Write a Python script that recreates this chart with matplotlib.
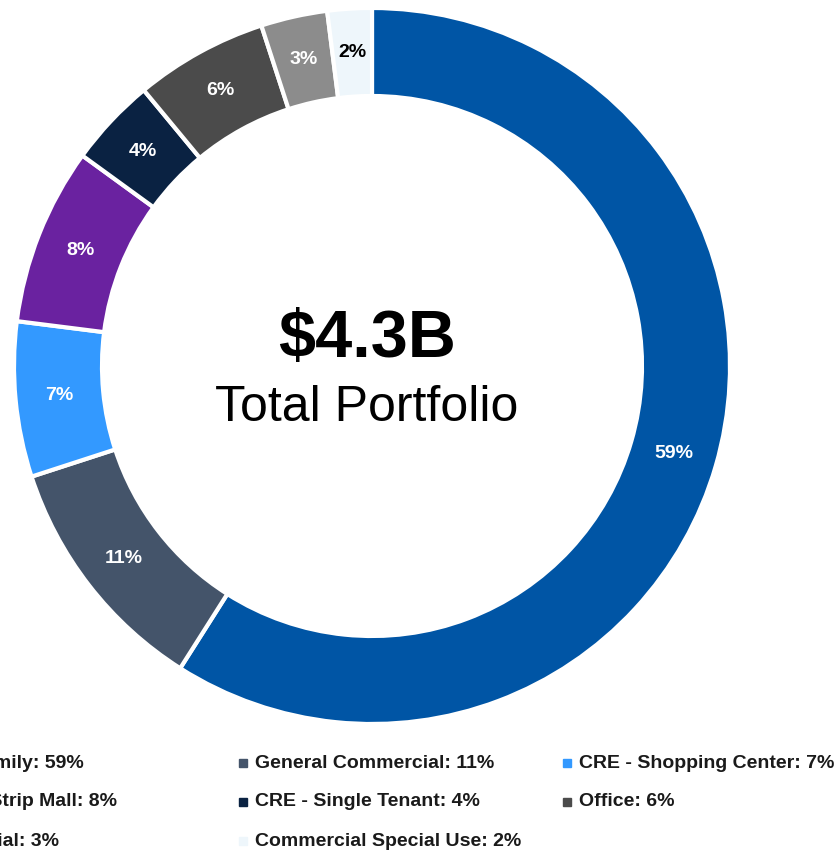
import matplotlib
matplotlib.use('Agg')
import matplotlib.pyplot as plt
from matplotlib import font_manager
import numpy as np

# slice data, clockwise from 12 o'clock
categories = ['Multifamily', 'General Commercial', 'CRE - Shopping Center', 'CRE - Strip Mall',
              'CRE - Single Tenant', 'Office', 'Industrial', 'Commercial Special Use']
shares = [59, 11, 7, 8, 4, 6, 3, 2]
colors = ['#0055A5', '#44546A', '#3399FF', '#6A22A0', '#0A2242', '#4B4B4B', '#8C8C8C', '#EEF6FB']
label_colors = ['white'] * 7 + ['black']

# legend layout order (rows of three)
legend_order = [0, 1, 2, 3, 4, 5, 6, 7]

total_value = '$4.3B'
total_label = 'Total Portfolio'

available = {f.name for f in font_manager.fontManager.ttflist}
font = 'Liberation Sans Narrow' if 'Liberation Sans Narrow' in available else 'Liberation Sans'
plt.rcParams['font.family'] = [font, 'DejaVu Sans']

W, H = 837, 855
fig = plt.figure(figsize=(W / 100, H / 100), dpi=100)
ax = fig.add_axes([0, 0, 1, 1])
ax.set_xlim(0, W)
ax.set_ylim(0, H)
ax.set_aspect('equal')
ax.axis('off')

cx, cy = 372, H - 366
R_out, R_in = 358, 270

wedges, _ = ax.pie(shares, colors=colors, startangle=90, counterclock=False,
                   radius=R_out, center=(cx, cy), frame=True,
                   wedgeprops=dict(width=R_out - R_in, edgecolor='white', linewidth=3))
ax.set_xlim(0, W)
ax.set_ylim(0, H)
ax.axis('off')

r_mid = (R_out + R_in) / 2
for w, s, lc in zip(wedges, shares, label_colors):
    ang = np.deg2rad((w.theta1 + w.theta2) / 2)
    ax.text(cx + r_mid * np.cos(ang), cy + r_mid * np.sin(ang), f'{s}%',
            ha='center', va='center', color=lc, fontsize=14, fontweight='bold')

ax.text(367, H - 340, total_value, ha='center', va='center', fontsize=48, fontweight='bold')
ax.text(367, H - 408, total_label, ha='center', va='center', fontsize=36)

# legend drawn by hand so the first column runs off the left edge like the source
col_x = [-81, 243, 567]
row_y = [763, 802, 841]
for k, i in enumerate(legend_order):
    r, c = divmod(k, 3)
    x, y = col_x[c], H - row_y[r]
    ax.add_patch(plt.Rectangle((x - 4, y - 4), 8, 8, color=colors[i], clip_on=False))
    ax.text(x + 12, y, f'{categories[i]}: {shares[i]}%', ha='left', va='center',
            fontsize=14, fontweight='bold', color='#1a1a1a')

fig.savefig('out.png', dpi=100)
